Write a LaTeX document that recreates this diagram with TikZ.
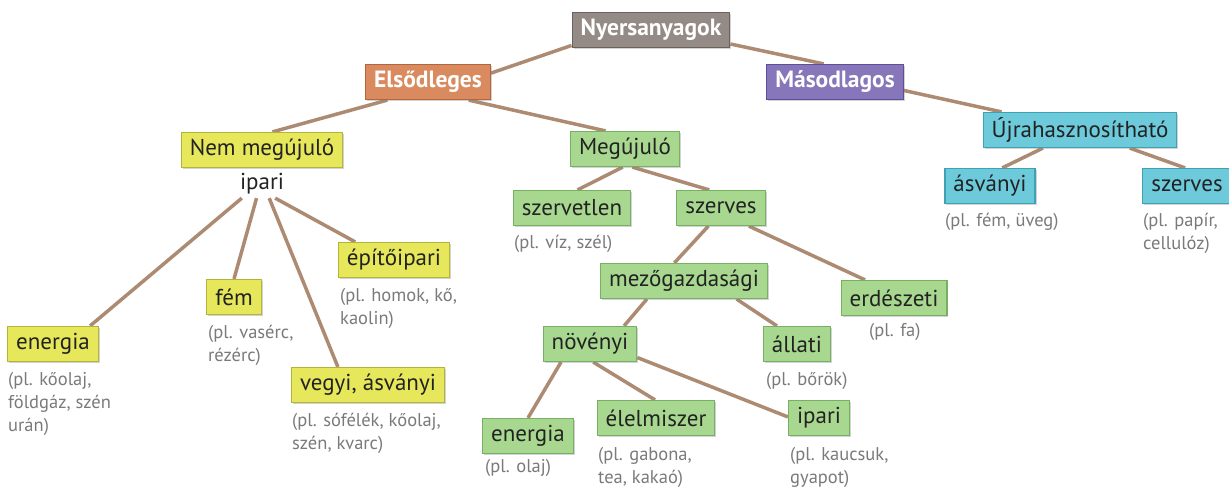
\documentclass[tikz,border=0pt]{standalone}
\usepackage{fontspec}
\setmainfont{PT Sans}
\usetikzlibrary{shadows,backgrounds}
\definecolor{conncol}{HTML}{AD8B73}
\definecolor{txtdark}{HTML}{222222}
\definecolor{notegray}{HTML}{7A7A7A}
\definecolor{rootfill}{HTML}{958B86}
\definecolor{rootdraw}{HTML}{6B625D}
\definecolor{elsofill}{HTML}{D98B5F}
\definecolor{elsodraw}{HTML}{B3663E}
\definecolor{masofill}{HTML}{8776BA}
\definecolor{masodraw}{HTML}{5E4F98}
\definecolor{ujrafill}{HTML}{6DCADB}
\definecolor{ujradraw}{HTML}{3EA2B4}
\definecolor{nemfill}{HTML}{E7E75B}
\definecolor{nemdraw}{HTML}{B5B43A}
\definecolor{megfill}{HTML}{A8D890}
\definecolor{megdraw}{HTML}{78B063}

\begin{document}
\begin{tikzpicture}[x=1pt, y=-1pt,
  box/.style={draw, rectangle, line width=1.2pt, minimum height=35pt, inner xsep=8.5pt,
              font=\fontsize{23}{26}\selectfont, text=txtdark,
              drop shadow={shadow xshift=1.5pt, shadow yshift=-1.5pt, opacity=0.35, fill=black!50}},
  headbox/.style={box, text=white, font=\fontsize{23.5}{26}\selectfont\bfseries},
  rootbox/.style={headbox, fill=rootfill, draw=rootdraw},
  elsobox/.style={headbox, fill=elsofill, draw=elsodraw},
  masobox/.style={headbox, fill=masofill, draw=masodraw},
  ujrabox/.style={box, fill=ujrafill, draw=ujradraw},
  nembox/.style={box, fill=nemfill, draw=nemdraw},
  megbox/.style={box, fill=megfill, draw=megdraw},
  plain/.style={inner xsep=2pt, inner ysep=3.5pt, font=\fontsize{23}{26}\selectfont, text=txtdark},
  note/.style={anchor=north west, inner sep=0pt, align=left, text=notegray,
               font=\fontsize{18.5}{23}\selectfont},
  conn/.style={draw=conncol, line width=3.5pt}
]
  \useasboundingbox (0,0) rectangle (1229,487);

  % top levels
  \node[rootbox] (nyers)   at (651,30)   {Nyersanyagok};
  \node[elsobox] (elso)    at (428,82)   {Elsődleges};
  \node[masobox] (maso)    at (835,82)   {Másodlagos};

  % masodlagos side
  \node[ujrabox] (ujra)    at (1080,130) {Újrahasznosítható};
  \node[ujrabox] (ujrasv)  at (990,186)  {ásványi};
  \node[ujrabox] (ujszerv) at (1187,186) {szerves};

  % nem megujulo
  \node[nembox] (nemmeg)   at (262,150)  {Nem megújuló};
  \node[plain]  (ipari)    at (262,184)  {ipari};
  \node[nembox] (epito)    at (394,260)  {építőipari};
  \node[nembox] (fem)      at (234,297)  {fém};
  \node[nembox] (energia)  at (53,344)   {energia};
  \node[nembox] (vegyi)    at (368,385)  {vegyi, ásványi};

  % megujulo
  \node[megbox] (megu)     at (625,149)  {Megújuló};
  \node[megbox] (szervtl)  at (572,208)  {szervetlen};
  \node[megbox] (szerves)  at (721,208)  {szerves};
  \node[megbox] (mezo)     at (684,281)  {mezőgazdasági};
  \node[megbox] (erdesz)   at (894,298)  {erdészeti};
  \node[megbox] (noveny)   at (590,344)  {növényi};
  \node[megbox] (allati)   at (797,344)  {állati};
  \node[megbox] (nenergia) at (528,436)  {energia};
  \node[megbox] (elelm)    at (656,418)  {élelmiszer};
  \node[megbox] (nipari)   at (819,418)  {ipari};

  % examples
  \node[note] (energia-n) at (8,372)    {(pl. kőolaj,\\földgáz, szén\\urán)};
  \node[note] (fem-n)     at (208,325)  {(pl. vasérc,\\rézérc)};
  \node[note] (epito-n)   at (340,288)  {(pl. homok, kő,\\kaolin)};
  \node[note] (vegyi-n)   at (292,413)  {(pl. sófélék, kőolaj,\\szén, kvarc)};
  \node[note] (szervtl-n) at (514,235)  {(pl. víz, szél)};
  \node[note] (erdesz-n)  at (869,323)  {(pl. fa)};
  \node[note] (allati-n)  at (766,372)  {(pl. bőrök)};
  \node[note] (nenergia-n) at (485,459) {(pl. olaj)};
  \node[note] (elelm-n)   at (598,447)  {(pl. gabona,\\tea, kakaó)};
  \node[note] (nipari-n)  at (790,447)  {(pl. kaucsuk,\\gyapot)};
  \node[note] (ujrasv-n)  at (945,213)  {(pl. fém, üveg)};
  \node[note] (ujszerv-n) at (1143,213) {(pl. papír,\\cellulóz)};

  \begin{scope}[on background layer]
    \draw[conn] (nyers.191) -- (elso.8);
    \draw[conn] (nyers.-10) -- (maso.122);
    \draw[conn] (maso.-7) -- (ujra.167);
    \draw[conn] (ujra.206) -- (ujrasv.56);
    \draw[conn] (ujra.-20) -- (ujszerv.96);
    \draw[conn] (elso.204) -- (nemmeg.60);
    \draw[conn] (elso.-24) -- (megu.137);
    % ipari branches
    \draw[conn] (ipari.215) -- (energia.26);
    \draw[conn] (ipari.249) -- (fem.90);
    \draw[conn] (ipari.297) -- (vegyi.149);
    \draw[conn] (ipari.313) -- (epito.155);
    % megujulo branches
    \draw[conn] (megu.263) -- (szervtl.73);
    \draw[conn] (megu.292) -- (szerves.123);
    \draw[conn] (szerves.235) -- (mezo.118);
    \draw[conn] (szerves.-33) -- (erdesz.148);
    \draw[conn] (mezo.206) -- (noveny.28);
    \draw[conn] (mezo.-19) -- (allati.138);
    \draw[conn] (noveny.212) -- (nenergia.90);
    \draw[conn] (noveny.280) -- (elelm.93);
    \draw[conn] (noveny.-16) -- (nipari.178);
  \end{scope}

\end{tikzpicture}
\end{document}
